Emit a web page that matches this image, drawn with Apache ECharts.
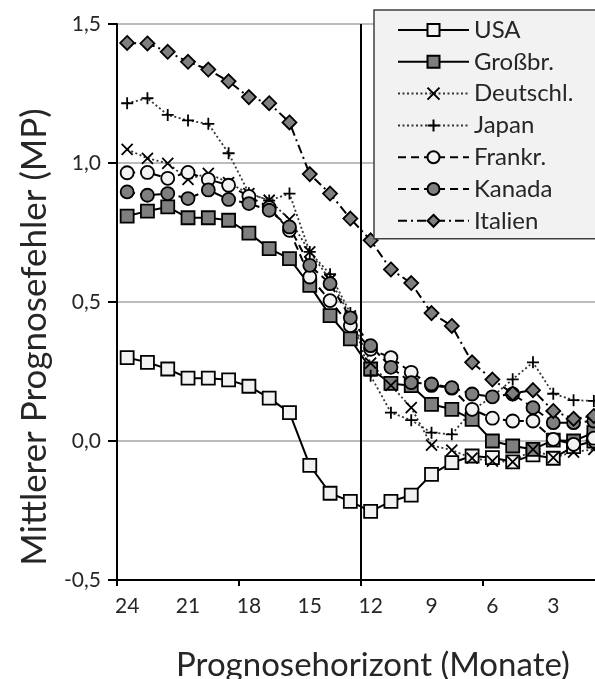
<!DOCTYPE html>
<html>
<head>
<meta charset="utf-8">
<script src="https://cdn.jsdelivr.net/npm/echarts@6/dist/echarts.min.js"></script>
<style>
html,body{margin:0;padding:0;background:#fff;}
#c{width:595px;height:679px;}
</style>
</head>
<body>
<div id="c"></div>
<script>
// Prognosehorizont in Monaten (24 ... 1)
const months = [24,23,22,21,20,19,18,17,16,15,14,13,12,11,10,9,8,7,6,5,4,3,2,1];
const xTickLabels = [24,21,18,15,12,9,6,3];
const xTickMarks = [24.5,18.5,12.5,6.5,0.5];
const verticalMarker = 12.5;

const usa      = [0.30,0.283,0.259,0.226,0.226,0.22,0.197,0.154,0.102,-0.088,-0.188,-0.217,-0.253,-0.217,-0.195,-0.12,-0.078,-0.054,-0.06,-0.075,-0.05,-0.062,-0.02,0.0];
const grossbr  = [0.809,0.827,0.842,0.803,0.803,0.794,0.748,0.692,0.656,0.56,0.451,0.367,0.259,0.207,0.199,0.132,0.114,0.078,0.0,-0.018,-0.03,0.003,0.0,0.03];
const deutschl = [1.049,1.017,0.999,0.941,0.963,0.929,0.89,0.866,0.797,0.68,0.58,0.45,0.28,0.2,0.12,-0.015,-0.033,-0.062,-0.072,-0.075,-0.03,-0.06,-0.04,-0.03];
const japan    = [1.215,1.233,1.173,1.153,1.141,1.035,0.891,0.865,0.89,0.68,0.60,0.46,0.235,0.102,0.075,0.03,0.024,0.11,0.16,0.222,0.283,0.17,0.147,0.144];
const frankr   = [0.965,0.966,0.945,0.966,0.941,0.92,0.88,0.84,0.758,0.59,0.505,0.415,0.33,0.30,0.247,0.2,0.19,0.114,0.082,0.072,0.072,0.006,-0.012,0.01];
const kanada   = [0.896,0.884,0.89,0.872,0.903,0.869,0.854,0.83,0.77,0.632,0.566,0.443,0.343,0.265,0.21,0.205,0.192,0.169,0.159,0.169,0.12,0.066,0.066,0.072];
const italien  = [1.432,1.43,1.40,1.364,1.336,1.294,1.237,1.215,1.146,0.96,0.89,0.80,0.722,0.617,0.568,0.46,0.414,0.283,0.221,0.171,0.183,0.108,0.08,0.09];

const FONT = 'Lato';
const TXT = '#262626';
const DARK = '#7f7f7f';
const LIGHT = '#f2f2f2';
const CROSS = 'path://M0,0L10,10M10,0L0,10';
const PLUS = 'path://M5,0L5,10M0,5L10,5';

function pairs(vals){ return months.map((m,i)=>[m, vals[i]]); }

function mk(name, vals, symbol, size, fill, lineType, lineW, lineColor){
  return {
    name: name, type: 'line', data: pairs(vals),
    symbol: symbol, symbolSize: size,
    showAllSymbol: true,
    itemStyle: {color: fill, borderColor: '#000', borderWidth: 1.8, opacity: 1},
    lineStyle: {color: lineColor, width: lineW, type: lineType},
    emphasis: {disabled: true},
    animation: false
  };
}

const series = [
  mk('USA', usa, 'rect', 13, LIGHT, 'solid', 2, '#000'),
  mk('Großbr.', grossbr, 'rect', 13, DARK, 'solid', 2, '#000'),
  mk('Deutschl.', deutschl, CROSS, 11, '#000', [2,2.5], 1.8, '#333'),
  mk('Japan', japan, PLUS, 12, '#000', [2,2.5], 1.8, '#333'),
  mk('Frankr.', frankr, 'circle', 13, LIGHT, [8,5], 2, '#000'),
  mk('Kanada', kanada, 'circle', 13, DARK, [8,5], 2, '#000'),
  mk('Italien', italien, 'diamond', 14, DARK, [9,4,2,4], 2, '#000')
];
series[0].markLine = {
  silent: true, symbol: ['none','none'], label: {show: false},
  lineStyle: {color: '#000', width: 2, type: 'solid'},
  data: [{xAxis: verticalMarker}], animation: false
};

const chart = echarts.init(document.getElementById('c'), null, {renderer: 'canvas'});
chart.setOption({
  backgroundColor: '#fff',
  animation: false,
  grid: {left: 117, top: 24, width: 487, height: 556, containLabel: false, outerBoundsMode: 'none'},
  xAxis: {
    type: 'value', inverse: true, min: 0.5, max: 24.5,
    axisLine: {show: true, onZero: false, lineStyle: {color: '#000', width: 2}},
    axisTick: {show: true, customValues: xTickMarks, length: 6, lineStyle: {color: '#000', width: 2}},
    axisLabel: {customValues: xTickLabels, fontFamily: FONT, fontSize: 21, color: TXT, margin: 16},
    splitLine: {show: false}
  },
  yAxis: {
    type: 'value', min: -0.5, max: 1.5, interval: 0.5,
    axisLine: {show: true, onZero: false, lineStyle: {color: '#000', width: 2}},
    axisTick: {show: true, inside: false, length: 9, lineStyle: {color: '#000', width: 2}},
    axisLabel: {fontFamily: FONT, fontSize: 21, color: TXT, margin: 16,
      formatter: v => v.toFixed(1).replace('.', ',')},
    splitLine: {show: true, lineStyle: {color: '#a6a6a6', width: 1.5}}
  },
  legend: {
    orient: 'vertical', left: 374, top: 10,
    padding: [8, 60, 6, 23],
    itemWidth: 71, itemHeight: 15, itemGap: 7.8,
    backgroundColor: '#f2f2f2', borderColor: '#404040', borderWidth: 1.5, borderRadius: 0,
    textStyle: {fontFamily: FONT, fontSize: 24, color: TXT},
    selectedMode: false,
    data: ['USA','Großbr.','Deutschl.','Japan','Frankr.','Kanada','Italien']
  },
  graphic: [
    {type: 'text', x: 35, y: 337, rotation: Math.PI/2,
      style: {text: 'Mittlerer Prognosefehler (MP)', fontFamily: FONT, fontSize: 35, fill: TXT,
        textAlign: 'center', textVerticalAlign: 'middle'}},
    {type: 'text', x: 373, y: 665,
      style: {text: 'Prognosehorizont (Monate)', fontFamily: FONT, fontSize: 33, fill: TXT,
        textAlign: 'center', textVerticalAlign: 'middle'}}
  ],
  series: series
});
</script>
</body>
</html>
